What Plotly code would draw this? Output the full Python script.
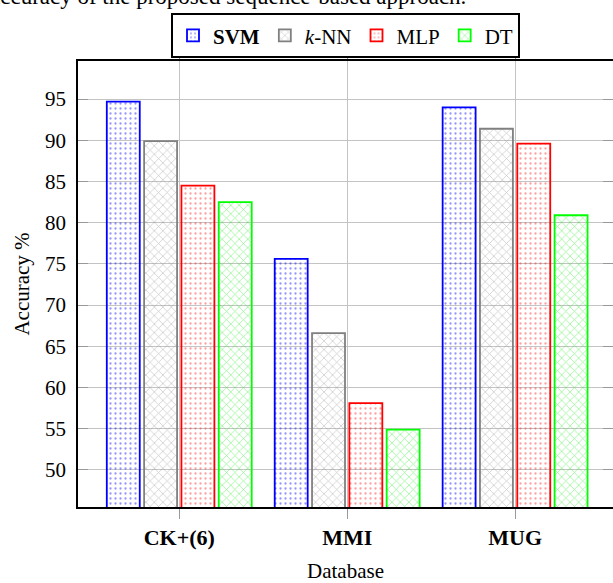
import plotly.graph_objects as go

categories = ["<b>CK+(6)</b>", "<b>MMI</b>", "<b>MUG</b>"]
svm = [94.7, 75.6, 94.0]
knn = [89.9, 66.6, 91.4]
mlp = [84.5, 58.1, 89.6]
dt = [82.5, 54.9, 80.9]
series_names = ["<b>SVM</b>", "<i>k</i>-NN", "MLP", "DT"]
y_ticks = [50, 55, 60, 65, 70, 75, 80, 85, 90, 95]
caption = "accuracy of the proposed sequence-based approach."

FONT = "Liberation Serif"
styles = [
    ("#0000ff", "rgba(0,0,255,0.42)", "."),
    ("#808080", "rgba(128,128,128,0.45)", "x"),
    ("#ff0000", "rgba(255,0,0,0.38)", "."),
    ("#00ff00", "rgba(0,230,0,0.45)", "x"),
]

fig = go.Figure()
for name, vals, (lc, pc, shp) in zip(series_names, [svm, knn, mlp, dt], styles):
    fig.add_trace(go.Bar(
        x=categories, y=vals, name=name,
        marker=dict(
            color="rgba(0,0,0,0)",
            line=dict(color=lc, width=1.8),
            pattern=dict(shape=shp, fgcolor=pc, bgcolor="rgba(255,255,255,0)",
                         size=5 if shp == "." else 6,
                         solidity=0.16 if shp == "." else 0.22,
                         fillmode="replace"),
        ),
    ))

# invisible trace to carry the mirrored right-hand ticks
fig.add_trace(go.Scatter(x=categories, y=svm, mode="none", yaxis="y2",
                         showlegend=False, hoverinfo="skip"))

yr = [45.5, 99.62]
fig.update_layout(
    width=613, height=583,
    margin=dict(l=78, r=0, t=61, b=74),
    paper_bgcolor="white", plot_bgcolor="white",
    barmode="group", bargap=0.111, bargroupgap=0.117,
    font=dict(family=FONT, size=21, color="black"),
    showlegend=True,
    legend=dict(orientation="h", x=0.5, xanchor="center", y=1.107, yanchor="top",
                bordercolor="black", borderwidth=2, bgcolor="white",
                font=dict(family=FONT, size=21), itemwidth=30,
                traceorder="normal"),
    xaxis=dict(
        range=[-0.603, 2.583], showgrid=True, gridcolor="#c4c4c4", gridwidth=1,
        ticks="outside", ticklen=10, tickcolor="#999999", tickwidth=1,
        showline=True, linecolor="black", linewidth=1.6, mirror="ticks",
        title=dict(text="Database", font=dict(family=FONT, size=21), standoff=18),
        tickfont=dict(family=FONT, size=22),
    ),
    yaxis=dict(
        range=yr, tickvals=y_ticks, showgrid=True, gridcolor="#c4c4c4", gridwidth=1,
        ticks="inside", ticklen=10, tickcolor="#999999", tickwidth=1,
        showline=True, linecolor="black", linewidth=1.6, zeroline=False,
        ticklabelstandoff=6,
        title=dict(text="Accuracy %", font=dict(family=FONT, size=21), standoff=10),
        tickfont=dict(family=FONT, size=21),
    ),
    yaxis2=dict(
        range=yr, tickvals=y_ticks, overlaying="y", side="right",
        showgrid=False, showline=False, zeroline=False, showticklabels=False,
        ticks="inside", ticklen=10, tickcolor="#999999", tickwidth=1,
    ),
    annotations=[dict(
        text=caption, xref="paper", yref="paper", x=0.729, y=1.145,
        xanchor="right", yanchor="middle", showarrow=False,
        font=dict(family=FONT, size=23, color="black"),
    )],
)

fig.write_html("out.html")
